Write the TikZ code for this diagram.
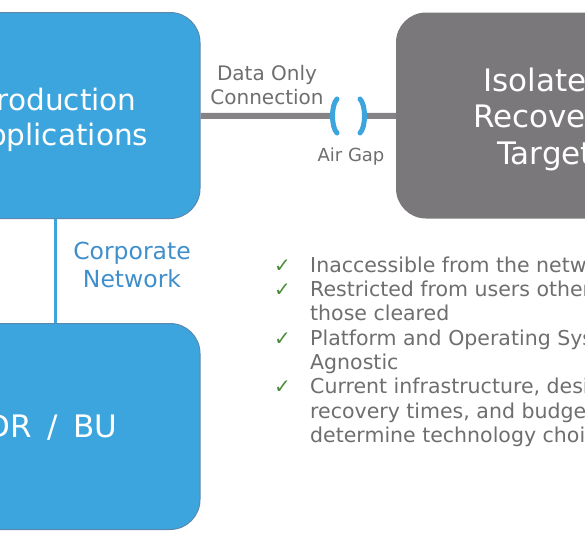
\documentclass[tikz,border=0pt]{standalone}
\usepackage{fontspec}
\setmainfont{DejaVu Sans}
\usepackage{xcolor}
\definecolor{sky-blue}{HTML}{3DA5DE}
\definecolor{edge-blue}{HTML}{5A88AE}
\definecolor{slate-grey}{HTML}{7B787B}
\definecolor{link-grey}{HTML}{858385}
\definecolor{text-grey}{HTML}{6E6E6E}
\definecolor{net-blue}{HTML}{3E8FCC}
\definecolor{tick-green}{HTML}{4A8C3C}
\usepackage{tikz}
\usetikzlibrary{positioning}
\tikzset{bigbox/.style = {draw=edge-blue, line width=1pt, rounded corners=30pt, fill=sky-blue, align=center, minimum width=290pt, minimum height=206pt}}
\tikzset{vault/.style = {rounded corners=30pt, fill=slate-grey, align=center, minimum width=298pt, minimum height=206pt}}
\tikzset{boxtext/.style = {text=white, align=center}}
\tikzset{caption/.style = {text=text-grey, align=center, inner sep=0pt}}
\tikzset{link/.style = {link-grey, line width=6pt}}
\tikzset{gap/.style = {sky-blue, line width=5pt, line cap=round}}
\newcommand{\tick}{\makebox[36pt][l]{\color{tick-green}\fontsize{20}{24.3}\selectfont ✓}}

\begin{document}
\begin{tikzpicture}[x=1pt, y=-1pt]

\useasboundingbox (0,0) rectangle (585,539);
\clip (0,0) rectangle (585,539);

\node[bigbox] (prod) at (55,115.5) {};
\node[boxtext, font=\fontsize{29.5}{35}\selectfont] (prodtext) at (58,119.5) {Production\\Applications};
\node[bigbox] (drbu) at (55,426.5) {};
\node[boxtext, font=\fontsize{31}{36}\selectfont] (drbutext) at (52,428) {\spaceskip=0.5em DR / BU};
\node[vault] (vault) at (545,115.5) {};
\node[boxtext, font=\fontsize{31}{36.5}\selectfont] (vaulttext) at (545,119) {Isolated\\Recovery\\Target};

% the air gap sits on the data link
\coordinate (gapL) at (333,116);
\coordinate (gapR) at (364,116);

\draw[sky-blue, line width=3pt] (prod) -- (drbu);
\draw[link] (prod) -- (gapL);
\draw[link] (gapR) -- (vault);
\draw[gap] (gapL) ++(4,-17) .. controls +(-6,6) and +(-6,-6) .. ++(0,34);
\draw[gap] (gapR) ++(-4,-17) .. controls +(6,6) and +(6,-6) .. ++(0,34);

\node[caption, font=\fontsize{20}{24}\selectfont] (data) at (267,85) {Data Only\\Connection};
\node[caption, font=\fontsize{18}{22}\selectfont] (air) at (351,157) {Air Gap};
\node[caption, text=net-blue, font=\fontsize{23.5}{28}\selectfont] (corp) at (132,265) {Corporate\\Network};

\node[caption, anchor=north west, align=left, font=\fontsize{20.5}{24.3}\selectfont] (list) at (274,255) {%
  \begin{tabular}{@{}l@{}l@{}}
    \tick & Inaccessible from the network \\
    \tick & Restricted from users other than \\
          & those cleared \\
    \tick & Platform and Operating System \\
          & Agnostic \\
    \tick & Current infrastructure, desired \\
          & recovery times, and budget \\
          & determine technology choice
  \end{tabular}};

\end{tikzpicture}
\end{document}
